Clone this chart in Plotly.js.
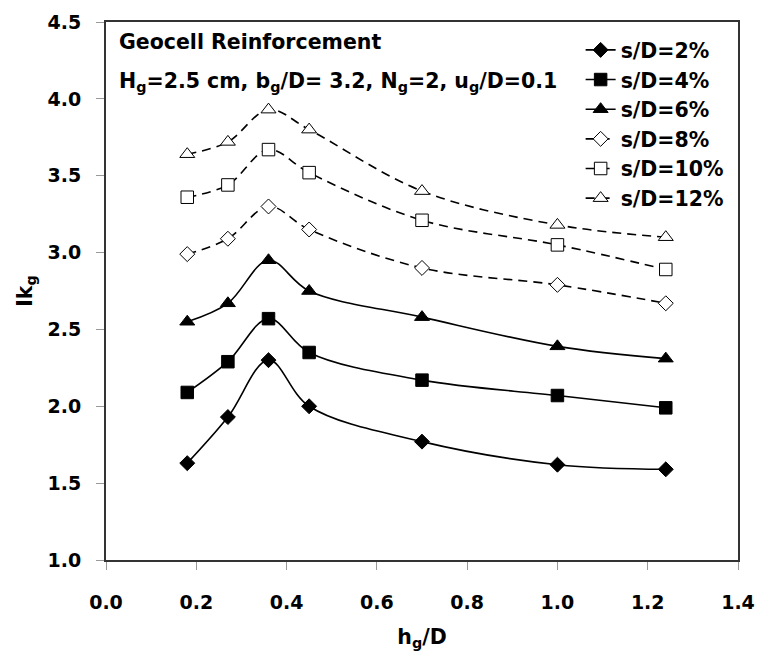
<!DOCTYPE html>
<html>
<head>
<meta charset="utf-8">
<script src="https://cdn.plot.ly/plotly-3.0.1.min.js"></script>
<style>html,body{margin:0;padding:0;background:#fff;}#chart{width:763px;height:663px;}</style>
</head>
<body>
<div id="chart"></div>
<script>
const hgD = [0.18, 0.27, 0.36, 0.45, 0.70, 1.00, 1.24];
const sD2  = [1.63, 1.93, 2.30, 2.00, 1.77, 1.62, 1.59];
const sD4  = [2.09, 2.29, 2.57, 2.35, 2.17, 2.07, 1.99];
const sD6  = [2.55, 2.67, 2.95, 2.75, 2.58, 2.39, 2.31];
const sD8  = [2.99, 3.09, 3.30, 3.15, 2.90, 2.79, 2.67];
const sD10 = [3.36, 3.44, 3.67, 3.52, 3.21, 3.05, 2.89];
const sD12 = [3.64, 3.72, 3.93, 3.80, 3.40, 3.18, 3.10];
const seriesNames = ['s/D=2%', 's/D=4%', 's/D=6%', 's/D=8%', 's/D=10%', 's/D=12%'];
const xTicks = [0.0, 0.2, 0.4, 0.6, 0.8, 1.0, 1.2, 1.4];
const yTicks = [1.0, 1.5, 2.0, 2.5, 3.0, 3.5, 4.0, 4.5];

const FONT = 'DejaVu Sans, Liberation Sans, Arial, sans-serif';
const dashStyle = '9px,6px';
const specs = [
  {y: sD2,  sym: 'diamond',     size: 11.5, fill: '#000', dash: 'solid'},
  {y: sD4,  sym: 'square',      size: 12.5, fill: '#000', dash: 'solid'},
  {y: sD6,  sym: 'triangle-up', size: 13,   fill: '#000', dash: 'solid'},
  {y: sD8,  sym: 'diamond',     size: 11.5, fill: '#fff', dash: dashStyle},
  {y: sD10, sym: 'square',      size: 12.5, fill: '#fff', dash: dashStyle},
  {y: sD12, sym: 'triangle-up', size: 13,   fill: '#fff', dash: dashStyle}
];
const traces = specs.map((s, i) => ({
  type: 'scatter', mode: 'lines+markers',
  x: hgD, y: s.y, name: '<b>' + seriesNames[i] + '</b>', legendgroup: 'g' + i,
  line: {color: '#000', width: 1.6, dash: s.dash, shape: 'spline', smoothing: 1},
  marker: {symbol: s.sym, size: s.size, color: s.fill, line: {color: '#000', width: 1}}
}));
// empty carrier trace so the label axis (y2) is drawn
traces.push({type: 'scatter', mode: 'markers', x: [], y: [], yaxis: 'y2', showlegend: false, hoverinfo: 'skip'});

const layout = {
  width: 763, height: 663,
  margin: {l: 105.5, r: 25, t: 22, b: 103},
  paper_bgcolor: '#fff', plot_bgcolor: '#fff',
  font: {family: FONT, size: 20.5, color: '#000'},
  showlegend: true,
  legend: {x: 0.751, y: 0.985, xanchor: 'left', yanchor: 'top', bgcolor: 'rgba(0,0,0,0)',
           font: {family: FONT, size: 20.5, color: '#000'}, tracegroupgap: 0},
  xaxis: {range: [0, 1.4], tickvals: xTicks, ticktext: xTicks.map(v => '<b>' + v.toFixed(1) + '</b>'),
          ticks: 'outside', ticklen: 8, tickcolor: '#999', tickwidth: 1,
          showline: true, linecolor: '#333', linewidth: 2, mirror: true, showgrid: false, zeroline: false,
          tickfont: {family: FONT, size: 19}, ticklabelstandoff: 16,
          title: {text: '<b>h<sub>g</sub>/D</b>', font: {family: FONT, size: 20.5}, standoff: 18}},
  yaxis: {range: [1, 4.5], tickvals: yTicks, showticklabels: false,
          ticks: 'outside', ticklen: 8, tickcolor: '#999', tickwidth: 1,
          showline: true, linecolor: '#333', linewidth: 2, mirror: true, showgrid: false, zeroline: false},
  yaxis2: {overlaying: 'y', side: 'left', anchor: 'x', range: [1, 4.5], tickvals: yTicks,
           ticktext: yTicks.map(v => '<b>' + v.toFixed(1) + '</b>'),
           ticks: 'outside', ticklen: 20, tickcolor: 'rgba(0,0,0,0)', tickwidth: 1,
           showline: false, showgrid: false, zeroline: false,
           tickfont: {family: FONT, size: 19},
           title: {text: '<b>Ik<sub>g</sub></b>', font: {family: FONT, size: 20.5}, standoff: 9}},
  annotations: [
    {xref: 'paper', yref: 'paper', x: 0.017, y: 0.963, xanchor: 'left', yanchor: 'middle', showarrow: false,
     text: '<b>Geocell Reinforcement</b>', font: {family: FONT, size: 20.5}},
    {xref: 'paper', yref: 'paper', x: 0.017, y: 0.888, xanchor: 'left', yanchor: 'middle', showarrow: false,
     text: '<b>H<sub>g</sub>=2.5 cm, b<sub>g</sub>/D= 3.2, N<sub>g</sub>=2, u<sub>g</sub>/D=0.1</b>',
     font: {family: FONT, size: 20.5}}
  ]
};
Plotly.newPlot('chart', traces, layout, {displayModeBar: false, staticPlot: true});
</script>
</body>
</html>
